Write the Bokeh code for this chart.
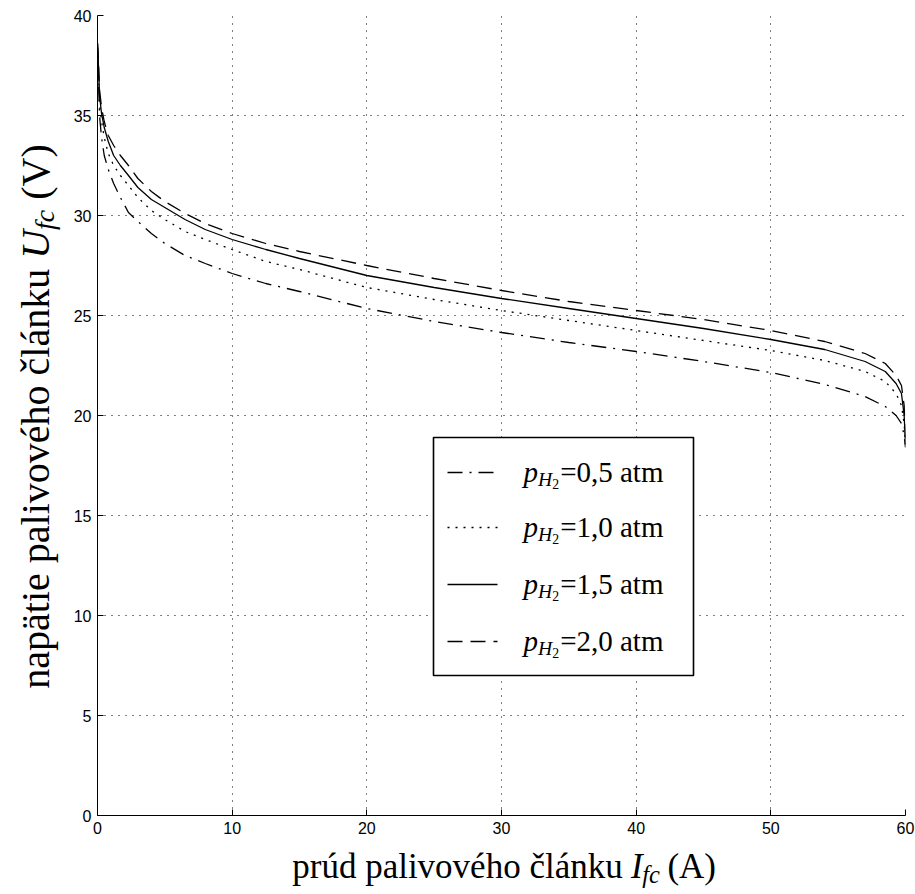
import numpy as np
from bokeh.plotting import figure
from bokeh.layouts import row, column
from bokeh.models import Range1d, FixedTicker
from bokeh.core.properties import value
from bokeh.embed import file_html
from bokeh.resources import INLINE

# ---------------- data ----------------
current = [0.02, 0.15, 0.3, 0.5, 0.8, 1.2, 1.7, 2.3, 3, 4, 5, 6.5, 8, 10, 12.5, 15,
           20, 25, 30, 35, 40, 45, 50, 54, 57, 58.5, 59.3, 59.7, 59.9, 60]
u_p05 = [38.0, 35.0, 33.9, 33.0, 32.3, 31.6, 30.9, 30.15, 29.7, 29.1, 28.6, 28.0, 27.6, 27.1,
         26.6, 26.2, 25.35, 24.7, 24.15, 23.65, 23.2, 22.7, 22.15, 21.55, 20.95, 20.45,
         20.0, 19.6, 19.0, 18.4]
u_p10 = [38.2, 35.6, 34.7, 33.9, 33.1, 32.5, 32.0, 31.5, 30.9, 30.25, 29.8, 29.2, 28.8, 28.3,
         27.7, 27.3, 26.4, 25.8, 25.25, 24.75, 24.25, 23.75, 23.25, 22.75, 22.2, 21.7,
         21.1, 20.5, 19.6, 18.5]
u_p15 = [38.4, 36.0, 35.1, 34.4, 33.7, 33.0, 32.5, 32.0, 31.4, 30.8, 30.4, 29.8, 29.3, 28.8,
         28.3, 27.85, 27.0, 26.4, 25.85, 25.35, 24.85, 24.35, 23.8, 23.3, 22.7, 22.2,
         21.6, 21.1, 20.0, 18.6]
u_p20 = [38.6, 36.3, 35.4, 34.7, 34.0, 33.5, 33.0, 32.5, 31.85, 31.2, 30.7, 30.1, 29.6, 29.1,
         28.6, 28.2, 27.5, 26.85, 26.25, 25.7, 25.25, 24.8, 24.25, 23.7, 23.1, 22.6,
         22.0, 21.5, 20.5, 18.8]
pressures = ["0,5", "1,0", "1,5", "2,0"]
x_ticks = [0, 10, 20, 30, 40, 50, 60]
y_ticks = [0, 5, 10, 15, 20, 25, 30, 35, 40]
x_label_parts = ["prúd palivového článku", "I", "fc", "(A)"]
y_label_parts = ["napätie palivového článku", "U", "fc", "(V)"]

series = [u_p05, u_p10, u_p15, u_p20]
dashes = ["15 7 2 7", "2 6", "solid", "15 8"]

# ---------------- layout ----------------
W, H = 915, 894
YLAB_W = 68                     # width of the strip holding the y label
MAIN_H = 840                    # height of the main figure
FL, FR, FT, FB = 97, 905, 15, 815          # frame edges in page pixels
XMIN, XMAX, YMIN, YMAX = 0, 60, 0, 40
SX = (FR - FL) / (XMAX - XMIN)
SY = (FB - FT) / (YMAX - YMIN)
SERIF = "Liberation Serif"
BASE_FIX = 10                   # empirical correction of the text baseline


def dx(px):
    return XMIN + (px - FL) / SX


def dy(py):
    return YMIN + (FB - py) / SY


p = figure(width=W - YLAB_W, height=MAIN_H, output_backend="svg", toolbar_location=None,
           x_range=Range1d(XMIN, XMAX), y_range=Range1d(YMIN, YMAX),
           min_border_left=FL - YLAB_W, min_border_right=W - FR,
           min_border_top=FT, min_border_bottom=MAIN_H - FB)
p.outline_line_color = None
p.background_fill_color = "white"
p.border_fill_color = "white"

for ax, ticks in ((p.xaxis, x_ticks), (p.yaxis, y_ticks)):
    ax.ticker = FixedTicker(ticks=ticks)
    ax.axis_line_color = "black"
    ax.axis_line_width = 1
    ax.major_tick_in = 6
    ax.major_tick_out = 0
    ax.minor_tick_line_color = None
    ax.major_tick_line_color = "black"
    ax.major_label_text_font = "Liberation Sans"
    ax.major_label_text_font_size = "16px"
    ax.major_label_text_color = "black"
    ax.major_label_standoff = 6

for g in (p.xgrid, p.ygrid):
    g.grid_line_color = "black"
    g.grid_line_dash = "1 6"
    g.grid_line_width = 1

for ys, d in zip(series, dashes):
    p.line(current, ys, line_color="black", line_width=1.3, line_dash=d)

# ---------------- legend (drawn by hand) ----------------
LB_L, LB_R, LB_T, LB_B = 433, 693, 437, 675
p.quad(left=[dx(LB_L)], right=[dx(LB_R)], top=[dy(LB_T)], bottom=[dy(LB_B)],
       fill_color="white", line_color="black", line_width=1.6)

LF = 29                      # legend font px
row_centers = [472, 527, 584, 641]


def ptext(fig, x, y, t, size, style="normal", angle=0.0, align="left"):
    fig.text([x], [y], text=[t], text_font=value(SERIF), text_font_style=style,
             text_font_size=f"{size:.1f}px", text_baseline="alphabetic",
             text_align=align, text_color="black", angle=angle)


for pr, d, rc in zip(pressures, dashes, row_centers):
    p.line([dx(447), dx(497)], [dy(rc), dy(rc)], line_color="black",
           line_width=1.3, line_dash=d)
    base = rc + 9 - BASE_FIX
    x0 = 523
    ptext(p, dx(x0), dy(base), "p", LF, "italic")
    x1 = x0 + 0.5 * LF
    hs = 0.68 * LF
    ptext(p, dx(x1), dy(base + 7), "H", hs, "italic")
    x2 = x1 + 0.722 * hs
    ts = 0.7 * hs
    ptext(p, dx(x2), dy(base + 12), "2", ts)
    x3 = x2 + 0.5 * ts + 1
    ptext(p, dx(x3), dy(base), "=" + pr + " atm", LF)

# ---------------- axis labels (mixed styles, in their own strips) ----------------
# x label strip: page rows MAIN_H..H, page columns YLAB_W..W
AFX = 35
SUBX = 0.7 * AFX
XL_W, XL_H = W - YLAB_W, H - MAIN_H
xl = figure(width=XL_W, height=XL_H, output_backend="svg", toolbar_location=None,
            x_range=Range1d(0, XL_W), y_range=Range1d(0, XL_H),
            x_axis_type=None, y_axis_type=None, min_border=0)
xl.outline_line_color = None
xl.background_fill_color = "white"
xl.border_fill_color = "white"
xl.grid.visible = False
sp = 0.25 * AFX
w_main = 9.443 * AFX
w_I = 0.333 * AFX
w_fc = 0.722 * SUBX
w_A = 1.388 * AFX
tot_x = w_main + sp + w_I + w_fc + sp + w_A
cx = (FL + FR) / 2 - YLAB_W
ax_x = cx - tot_x / 2 + w_main
base_x = H - (876 - BASE_FIX)          # baseline, measured up from strip bottom
ptext(xl, ax_x, base_x, x_label_parts[0], AFX, align="right")
ptext(xl, ax_x + sp, base_x, x_label_parts[1], AFX, "italic")
ptext(xl, ax_x + sp + w_I, base_x - 0.22 * AFX, x_label_parts[2], SUBX, "italic")
ptext(xl, ax_x + sp + w_I + w_fc + sp, base_x, x_label_parts[3], AFX)

# y label strip: page columns 0..YLAB_W, full height
AFY = 40
SUBY = 0.7 * AFY
yl = figure(width=YLAB_W, height=H, output_backend="svg", toolbar_location=None,
            x_range=Range1d(0, YLAB_W), y_range=Range1d(0, H),
            x_axis_type=None, y_axis_type=None, min_border=0)
yl.outline_line_color = None
yl.background_fill_color = "white"
yl.border_fill_color = "white"
yl.grid.visible = False
A = np.pi / 2
spy = 0.25 * AFY
w_main_y = 10.498 * AFY
w_U = 0.722 * AFY
w_fcy = 0.722 * SUBY
w_V = 1.388 * AFY
tot_y = w_main_y + spy + w_U + w_fcy + spy + w_V
cy = H - 416                                    # measured up from bottom
ay = cy - tot_y / 2 + w_main_y
bx = 48 - 13
ptext(yl, bx, ay, y_label_parts[0], AFY, angle=A, align="right")
ptext(yl, bx, ay + spy, y_label_parts[1], AFY, "italic", angle=A)
ptext(yl, bx + 0.22 * AFY, ay + spy + w_U, y_label_parts[2], SUBY, "italic", angle=A)
ptext(yl, bx, ay + spy + w_U + w_fcy + spy, y_label_parts[3], AFY, angle=A)

layout = row(yl, column(p, xl, spacing=0), spacing=0)
open("out.html", "w").write(file_html(layout, INLINE))
